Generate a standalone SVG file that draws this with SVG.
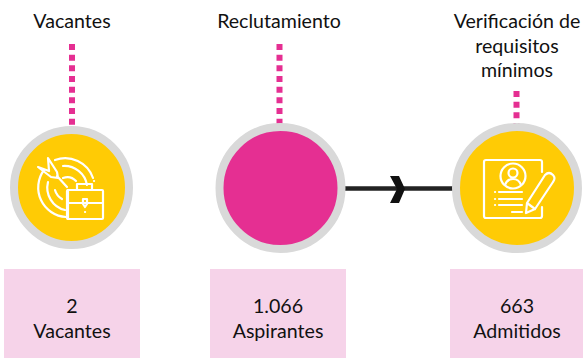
<svg xmlns="http://www.w3.org/2000/svg" width="583" height="358" viewBox="0 0 583 358">
<style>
text{font-family:"Lato","Liberation Sans",sans-serif;font-size:19.600px;fill:#111;text-anchor:middle}
.ring{stroke:#d9d9d9;stroke-width:8}
.y{fill:#ffcb05}.p{fill:#e52f92}
.box{fill:#f6d3e9}
.dot{fill:none;stroke:#e52f92;stroke-width:6;stroke-dasharray:6 4.670}
.ic{fill:none;stroke:#fff;stroke-width:2.200;stroke-linecap:round;stroke-linejoin:round}
</style>
<rect width="583" height="358" fill="#fff"/>
<g id="connectors">
<path class="dot" d="M72 44V125"/>
<path class="dot" d="M279.500 44V125"/>
<path class="dot" d="M516.500 91V124"/>
<path d="M344 188.500H453" fill="none" stroke="#222" stroke-width="4.500"/>
<path d="M390 176H399L405 189L399 203H390L397 189Z" fill="#111"/>
</g>
<g id="node-vacantes">
<text x="72" y="28">Vacantes</text>
<circle class="ring y" cx="71.500" cy="187.500" r="57.500"/>
<g class="ic">
<path d="M55 160A29.500 29.500 0 0 1 93 178M44 170A29.500 29.500 0 0 0 66 217M63 166A23 23 0 0 1 87 185M48 182A23 23 0 0 0 65 210M63 178A12 12 0 0 1 76 181M55 190A15 15 0 0 0 62 199"/>
<path d="M38 167L49 171L48 158L57 172L58 178L51 177ZM57 176L67 187"/>
<rect x="67" y="190" width="36" height="29" rx="1"/>
<path d="M77 190V184H92V190M67 203H103M68 190V219M83 199H87V204L85 207L83 204ZM85 212H85.100M94 181H94.100"/>
</g>
</g>
<g id="node-reclutamiento">
<text x="279" y="28">Reclutamiento</text>
<circle class="ring p" cx="280.500" cy="188" r="61"/>
</g>
<g id="node-verificacion">
<text x="517" y="28">Verificación de</text>
<text x="517" y="53">requisitos</text>
<text x="517" y="77">mínimos</text>
<circle class="ring y" cx="517" cy="188" r="61"/>
<g class="ic">
<path d="M542 172V162Q542 160 540 160H486Q484 160 484 162V216Q484 218 486 218H540Q542 218 542 216V207M512 212H522"/>
<circle cx="513" cy="176" r="12.500"/>
<circle cx="513" cy="173" r="4.500"/>
<path d="M505 185Q507 179 513 179Q519 179 521 185"/>
<path d="M499 192H522M499 199H522M499 205H522M495 192H495.100M495 199H495.100M495 205H495.100"/>
<path d="M526 213L527 203L545 175Q549 171 553 175Q556 178 553 182L535 209ZM527 203L535 209"/>
</g>
</g>
<g id="box-1">
<rect class="box" x="4" y="269" width="136" height="89"/>
<text x="72" y="313">2</text>
<text x="72" y="338">Vacantes</text>
</g>
<g id="box-2">
<rect class="box" x="210" y="269" width="136" height="89"/>
<text x="278" y="313">1.066</text>
<text x="278" y="338">Aspirantes</text>
</g>
<g id="box-3">
<rect class="box" x="450" y="269" width="133" height="89"/>
<text x="517" y="313">663</text>
<text x="517" y="338">Admitidos</text>
</g>
</svg>
